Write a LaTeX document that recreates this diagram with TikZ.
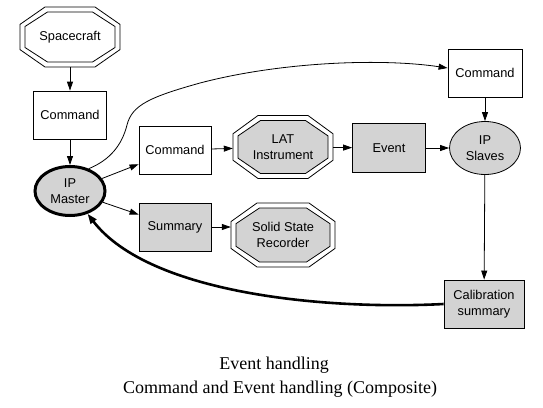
\documentclass[tikz,border=0pt]{standalone}
\usepackage{fontspec}
\setmainfont{Liberation Sans}
\newfontfamily\capfont{Liberation Serif}
\usetikzlibrary{shapes.geometric,arrows.meta,calc}
\definecolor{ngray}{RGB}{211,211,211}
% cx cy hw hh fill
\newcommand\octshape[5]{%
  \draw[line width=0.8pt,fill=#5]
    ({#1-0.5*(#3)},{#2-(#4)}) -- ({#1+0.5*(#3)},{#2-(#4)}) -- ({#1+(#3)},{#2-0.42*(#4)}) --
    ({#1+(#3)},{#2+0.42*(#4)}) -- ({#1+0.5*(#3)},{#2+(#4)}) -- ({#1-0.5*(#3)},{#2+(#4)}) --
    ({#1-(#3)},{#2+0.42*(#4)}) -- ({#1-(#3)},{#2-0.42*(#4)}) -- cycle;}
\newcommand\dbloct[5]{%
  \octshape{#1}{#2}{#3}{#4}{white}%
  \octshape{#1}{#2}{#3-5}{#4-5}{#5}}
\begin{document}
\begin{tikzpicture}[x=1pt,y=-1pt,
  txt/.style={font=\fontsize{12.8}{16}\selectfont, align=center, inner sep=0pt},
  boxw/.style={txt, draw, line width=0.8pt, fill=white, minimum width=#1, minimum height=48},
  boxg/.style={boxw=#1, fill=ngray},
  octn/.style={txt, minimum width=#1},
  ell/.style={txt, ellipse, draw, fill=ngray, line width=0.8pt},
  arr/.style={line width=0.8pt, -{Triangle[length=9pt,width=6pt]}},
  tarr/.style={line width=2.6pt, -{Triangle[length=10pt,width=7pt]}}]
\useasboundingbox[fill=white] (0,0) rectangle (543,407);

% octagon outlines
\dbloct{70}{37}{50}{30}{white}
\dbloct{283}{147}{50}{31.5}{ngray}
\dbloct{283}{235}{52}{32}{ngray}

% nodes
\node[octn=100, minimum height=60] (sc) at (70,37) {Spacecraft};
\node[boxw=73] (cmd1) at (70,115) {Command};
\node[ell, line width=3pt, minimum width=70, minimum height=49] (master) at (70,191) {IP\\Master};
\node[boxw=72] (cmd2) at (175,150) {Command};
\node[boxg=72] (summ) at (175,227) {Summary};
\node[octn=100, minimum height=63] (lat) at (283,147) {LAT\\Instrument};
\node[boxg=73, minimum height=49] (event) at (389,148) {Event};
\node[ell, minimum width=71, minimum height=53] (slaves) at (485,148) {IP\\Slaves};
\node[boxw=74] (cmd3) at (485,73) {Command};
\node[octn=104, minimum height=64] (ssr) at (283,235) {Solid State\\Recorder};
\node[boxg=80] (calib) at (484,304) {Calibration\\summary};

% connectors
\draw[arr] (sc) -- (cmd1);
\draw[arr] (cmd1) -- (master);
\draw[arr] (master) -- (cmd2);
\draw[arr] (master) -- (summ);
\draw[arr] (cmd2) -- (lat);
\draw[arr] (summ.east) -- (summ.east -| ssr.west);
\draw[arr] (lat) -- (event);
\draw[arr] (event) -- (slaves);
\draw[arr] (cmd3) -- (slaves);
\draw[arr] (slaves) -- (calib);
\draw[arr] (master.50) .. controls (110,160) and (122,145) .. (127,125)
  .. controls (132,105) and (150,97) .. (200,83)
  .. controls (280,62) and (380,58) .. ($(cmd3.west)+(0,-5)$);
\draw[tarr] (calib.west) .. controls (330,310) and (150,295) .. (master);

% caption
\node[font=\capfont\fontsize{18}{24}\selectfont, anchor=base] (cap1) at (274,369) {Event handling};
\node[font=\capfont\fontsize{18}{24}\selectfont, anchor=base] (cap2) at (280,393) {Command and Event handling (Composite)};
\end{tikzpicture}
\end{document}
